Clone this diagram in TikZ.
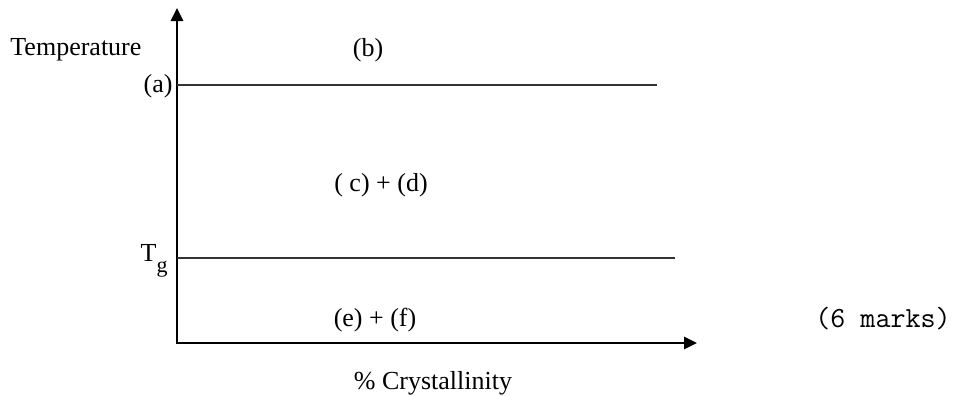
\documentclass[tikz,border=0pt]{standalone}
\usepackage{fontspec}
\setmainfont{Liberation Serif}
\usetikzlibrary{arrows.meta,positioning}

\begin{document}
\begin{tikzpicture}[x=0.5pt, y=-0.5pt,
    lbl/.style={font=\fontsize{13}{15}\selectfont, inner sep=0pt},
    axis/.style={line width=1.3pt, -{Triangle[length=6.5pt, width=6pt]}},
    level/.style={line width=0.7pt, draw=black!80}]
  \useasboundingbox (0,0) rectangle (960,396);
  % axes
  \coordinate (origin) at (177,343);
  \coordinate (ytip) at (177,8);
  \coordinate (xtip) at (697,343);
  \draw[axis] ([yshift=0.65pt]origin) -- (ytip);
  \draw[axis] ([xshift=-0.65pt]origin) -- (xtip);
  \node[lbl, anchor=west] (temp) at (10,50) {Temperature};
  \node[lbl] (xlabel) at (433,383) {\% Crystallinity};
  % levels
  \node[lbl, anchor=east] (a) at (173,86) {(a)};
  \coordinate (aend) at (657,85);
  \draw[level] (origin |- aend) -- (aend);
  \node[lbl, anchor=east] (tg) at (168,261) {T\raisebox{-0.45em}{\fontsize{11}{13}\selectfont g}};
  \coordinate (tgend) at (675,258);
  \draw[level] (origin |- tgend) -- (tgend);
  % regions
  \node[lbl] (b) at (368,50) {(b)};
  \node[lbl] (cd) at (381,185) {( c) + (d)};
  \node[lbl] (ef) at (375,320) {(e) + (f)};
  \node[lbl, anchor=west, font=\fontsize{14.6}{17}\selectfont\ttfamily] (marks) at (815,319) {(6 marks)};
\end{tikzpicture}
\end{document}
